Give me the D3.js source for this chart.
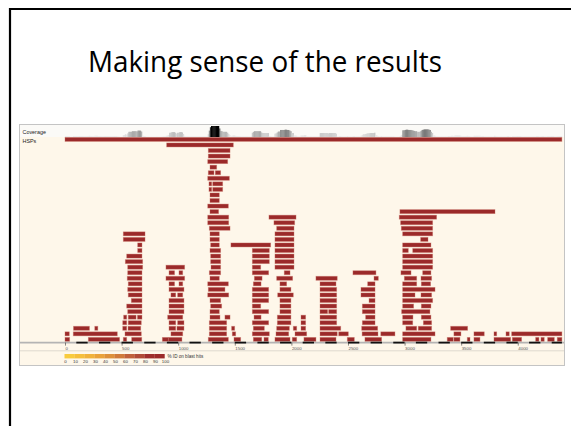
<!DOCTYPE html>
<html>
<head>
<meta charset="utf-8">
<script src="https://cdn.jsdelivr.net/npm/d3@7"></script>
<style>
  html, body { margin: 0; padding: 0; background: #fff; }
  svg { display: block; }
</style>
</head>
<body>
<svg id="slide" width="571" height="426"></svg>
<script>
var title = "Making sense of the results";
var queryLength = 4390;
var tickValues = [0, 500, 1000, 1500, 2000, 2500, 3000, 3500, 4000];
var legendTicks = [0, 10, 20, 30, 40, 50, 60, 70, 80, 90, 100];
var legendColors = ["#f8cb3e", "#f5bf3c", "#f0b23b", "#e9a23a", "#dd903a", "#d07a3a", "#c0603a", "#b04a36", "#9e2e2c", "#9b2a2a"];

// HSPs per row (row 0 at top), each [start, end] on the query
var hspRows = [
  [[0, 4390]],
  [[898, 1487]],
  [[1266, 1458]],
  [[1266, 1458]],
  [[1261, 1437]],
  [[1281, 1340]],
  [[1266, 1316], [1328, 1375]],
  [[1261, 1452]],
  [[1272, 1296], [1305, 1393]],
  [[1272, 1296], [1305, 1393]],
  [[1281, 1363]],
  [[1281, 1363]],
  [[1261, 1443]],
  [[1281, 1357], [2959, 3799]],
  [[1261, 1446], [1802, 2041], [2953, 3283]],
  [[1261, 1446], [1846, 2029], [2965, 3248]],
  [[1275, 1458], [1870, 2023], [2971, 3248]],
  [[515, 707], [1281, 1363], [1855, 2023], [2983, 3248]],
  [[515, 707], [1281, 1363], [1855, 2023], [3142, 3207]],
  [[642, 680], [1287, 1363], [1466, 1817], [1855, 2023], [2983, 3233]],
  [[642, 680], [1281, 1375], [1655, 1805], [1855, 2023], [2983, 3033], [3072, 3248]],
  [[545, 680], [1287, 1375], [1655, 1805], [1855, 2023], [2983, 3248]],
  [[533, 686], [1287, 1375], [1655, 1805], [1855, 2023], [2983, 3248]],
  [[554, 686], [892, 1057], [1290, 1375], [1655, 1729], [1855, 2023], [2983, 3248]],
  [[554, 680], [919, 968], [1007, 1040], [1275, 1375], [1655, 1799], [1937, 1988], [2544, 2747], [2968, 3057], [3160, 3233]],
  [[550, 680], [892, 1057], [1281, 1363], [1673, 1741], [1870, 2011], [2217, 2405], [2730, 2768], [2998, 3107], [3145, 3239]],
  [[559, 680], [919, 968], [1007, 1040], [1261, 1443], [1664, 1732], [1899, 1958], [2253, 2394], [2674, 2739], [2983, 3107], [3148, 3230]],
  [[554, 680], [919, 1051], [1266, 1413], [1655, 1799], [1899, 1996], [2253, 2400], [2615, 2739], [2983, 3269]],
  [[559, 680], [936, 978], [995, 1040], [1261, 1446], [1655, 1799], [1879, 2017], [2253, 2400], [2615, 2739], [2983, 3092], [3145, 3239]],
  [[586, 680], [919, 1051], [1281, 1375], [1655, 1799], [1899, 1996], [2253, 2400], [2686, 2739], [2983, 3248]],
  [[545, 680], [919, 1051], [1287, 1384], [1655, 1729], [1899, 1996], [2253, 2400], [2627, 2739], [2983, 3080], [3148, 3233]],
  [[554, 680], [919, 1051], [1281, 1363], [1655, 1799], [1899, 1996], [2253, 2320], [2329, 2400], [2627, 2739], [2974, 3224]],
  [[518, 545], [559, 628], [640, 680], [907, 1040], [1281, 1369], [1413, 1458], [1670, 1732], [1876, 1996], [2085, 2126], [2253, 2400], [2656, 2739], [2983, 3074], [3148, 3233]],
  [[510, 545], [559, 674], [919, 978], [995, 1051], [1275, 1428], [1655, 1799], [1876, 1996], [2085, 2126], [2253, 2400], [2627, 2739], [2983, 3072], [3166, 3239]],
  [[75, 216], [263, 290], [510, 545], [557, 669], [919, 978], [989, 1051], [1275, 1428], [1472, 1499], [1664, 1761], [1870, 1982], [2017, 2047], [2085, 2126], [2253, 2436], [2621, 2762], [3012, 3107], [3121, 3239], [3407, 3557]],
  [[0, 38], [73, 462], [530, 674], [936, 1040], [1275, 1428], [1478, 1508], [1655, 1805], [1864, 1976], [2032, 2135], [2253, 2405], [2418, 2503], [2625, 2765], [2790, 2915], [2983, 3269], [3436, 3498], [3613, 3704], [3790, 3814], [3896, 3925], [3946, 4390]],
  [[0, 41], [206, 482], [515, 545], [589, 678], [860, 913], [913, 1033], [1266, 1443], [1493, 1552], [1664, 1738], [1758, 1796], [1855, 1988], [2008, 2047], [2111, 2217], [2253, 2394], [2494, 2556], [2650, 2797], [2983, 3233], [3377, 3430], [3436, 3489], [3554, 3578], [3613, 3666], [3790, 3937], [3952, 4034], [4158, 4187], [4205, 4234], [4264, 4323], [4349, 4390]]
];

var svg = d3.select("#slide");

// slide border
svg.append("path")
    .attr("d", "M10,426V9H571")
    .attr("fill", "none")
    .attr("stroke", "#000")
    .attr("stroke-width", 2.2);

svg.append("text")
    .attr("x", 88)
    .attr("y", 71.5)
    .attr("font-family", "Open Sans")
    .attr("font-size", 28.5)
    .attr("textLength", 354)
    .attr("lengthAdjust", "spacingAndGlyphs")
    .attr("fill", "#000")
    .text(title);

var frame = {left: 19.5, top: 124.5, right: 564.5, bottom: 365.5};

var x = d3.scaleLinear().domain([0, queryLength]).range([65, 561.9]);
var y = d3.scaleLinear().domain([0, 36]).range([139.4, 339.4]);
var barH = 4;

var g = svg.append("g");

g.append("rect")
    .attr("x", frame.left).attr("y", frame.top)
    .attr("width", frame.right - frame.left).attr("height", frame.bottom - frame.top)
    .attr("fill", "#fef7ea");

g.append("rect")
    .attr("x", frame.left).attr("y", frame.top)
    .attr("width", frame.right - frame.left).attr("height", 12.5)
    .attr("fill", "#fbfaf7");

// coverage, computed from the HSPs
var binSize = 10;
var bins = d3.range(0, queryLength, binSize).map(function (b) {
    var mid = b + binSize / 2, n = 0;
    hspRows.forEach(function (row) {
        row.forEach(function (h) { if (mid >= h[0] && mid < h[1]) n++; });
    });
    return {start: b, n: n};
});
var covH = d3.scaleLinear().domain([0, 36]).range([0, 11]).clamp(true);
var covShade = function (n) {
    var t = Math.min(n / 36, 1);
    var v = Math.round(235 - 235 * t * t);
    return d3.rgb(v, v, v);
};
g.append("g")
    .selectAll("rect")
    .data(bins.filter(function (d) { return d.n > 0; }))
    .enter().append("rect")
    .attr("x", function (d) { return x(d.start); })
    .attr("width", x(binSize) - x(0) + 0.3)
    .attr("y", function (d) { return 137 - covH(d.n); })
    .attr("height", function (d) { return covH(d.n); })
    .attr("fill", function (d) { return covShade(d.n); });

g.append("text")
    .attr("x", 22.5).attr("y", 133.5)
    .attr("font-family", "Liberation Sans")
    .attr("font-size", 5.4)
    .attr("fill", "#222")
    .text("Coverage");
g.append("text")
    .attr("x", 22.5).attr("y", 142.6)
    .attr("font-family", "Liberation Sans")
    .attr("font-size", 5.4)
    .attr("fill", "#222")
    .text("HSPs");

// HSP bars
g.append("g")
    .selectAll("g")
    .data(hspRows)
    .enter().append("g")
    .selectAll("rect")
    .data(function (row, i) { return row.map(function (h) { return {row: i, start: h[0], end: h[1]}; }); })
    .enter().append("rect")
    .attr("x", function (d) { return x(d.start); })
    .attr("y", function (d) { return y(d.row) - barH / 2; })
    .attr("width", function (d) { return x(d.end) - x(d.start); })
    .attr("height", barH)
    .attr("fill", "#9b2a2a")
    .attr("stroke", "rgba(200,110,100,0.45)")
    .attr("stroke-width", 0.8);

// ruler
var axisY = 342.6;
g.append("line")
    .attr("x1", frame.left).attr("x2", frame.right)
    .attr("y1", axisY).attr("y2", axisY)
    .attr("stroke", "#b4b4b4").attr("stroke-width", 1.8);
g.append("g")
    .selectAll("line")
    .data(d3.range(100, queryLength, 200))
    .enter().append("line")
    .attr("x1", function (d) { return x(d); })
    .attr("x2", function (d) { return x(Math.min(d + 100, queryLength)); })
    .attr("y1", axisY).attr("y2", axisY)
    .attr("stroke", "#111").attr("stroke-width", 1.8);

var axis = g.append("g")
    .attr("transform", "translate(0," + axisY + ")")
    .call(d3.axisBottom(x).tickValues(tickValues).tickFormat(d3.format("d")).tickSize(3).tickPadding(1));
axis.select(".domain").remove();
axis.selectAll(".tick line").attr("stroke", "#333").attr("stroke-width", 0.6);
axis.selectAll(".tick text")
    .attr("text-anchor", "start")
    .attr("font-family", "Liberation Sans")
    .attr("font-size", 4.4)
    .attr("fill", "#555");

g.append("line")
    .attr("x1", frame.left).attr("x2", frame.right)
    .attr("y1", 350.8).attr("y2", 350.8)
    .attr("stroke", "#d6d2c8").attr("stroke-width", 0.8);

// legend
var lx = d3.scaleLinear().domain([0, 100]).range([64.5, 164.5]);
g.append("g")
    .selectAll("rect")
    .data(legendColors)
    .enter().append("rect")
    .attr("x", function (d, i) { return lx(legendTicks[i]); })
    .attr("width", function (d, i) { return lx(legendTicks[i + 1]) - lx(legendTicks[i]) + 0.2; })
    .attr("y", 354)
    .attr("height", 4.4)
    .attr("fill", function (d) { return d; });
g.append("text")
    .attr("x", 167.5).attr("y", 358)
    .attr("font-family", "Liberation Sans")
    .attr("font-size", 4.6)
    .attr("fill", "#333")
    .text("% ID on blast hits");
g.append("g")
    .selectAll("text")
    .data(legendTicks)
    .enter().append("text")
    .attr("x", function (d) { return lx(d) + 1; })
    .attr("y", 363.2)
    .attr("text-anchor", "middle")
    .attr("font-family", "Liberation Sans")
    .attr("font-size", 4.4)
    .attr("fill", "#333")
    .text(function (d) { return d; });

g.append("rect")
    .attr("x", frame.left).attr("y", frame.top)
    .attr("width", frame.right - frame.left).attr("height", frame.bottom - frame.top)
    .attr("fill", "none")
    .attr("stroke", "#c4c4c4")
    .attr("stroke-width", 1);
</script>
</body>
</html>
